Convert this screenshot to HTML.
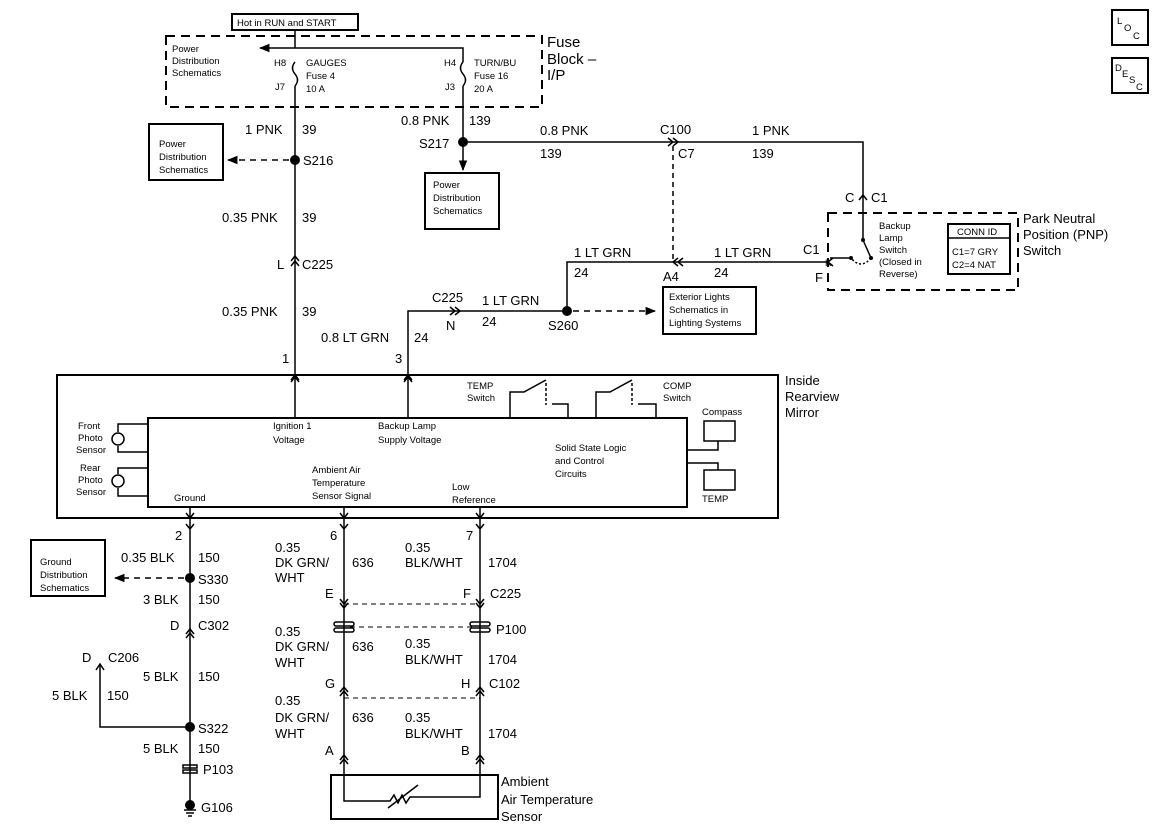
<!DOCTYPE html>
<html><head><meta charset="utf-8"><style>
html,body{margin:0;padding:0;background:#fff;}
svg{display:block;font-family:"Liberation Sans",Arial,sans-serif;}
.t{font-size:13px;} .s{font-size:9.5px;} .b{font-size:15px;}
</style></head><body>
<svg width="1162" height="837" viewBox="0 0 1162 837" xmlns="http://www.w3.org/2000/svg">
<defs>
<marker id="ah" viewBox="0 0 10 10" refX="9" refY="5" markerWidth="7" markerHeight="7" orient="auto"><path d="M0,1 L10,5 L0,9 z" fill="#000"/></marker>
</defs>
<g fill="none" stroke="#000" stroke-width="1.5">
<rect x="232" y="14" width="126" height="16" stroke-width="2"/>
<rect x="166" y="36" width="376" height="71" stroke-dasharray="9,6" stroke-width="2"/>
<path d="M295 30 V48"/>
<path d="M295 48 H260" marker-end="url(#ah)"/>
<path d="M295 48 H463 V62"/>
<path d="M295 62 q-5 6 0 12 q5 6 0 12"/>
<path d="M463 62 q-5 6 0 12 q5 6 0 12"/>
<path d="M295 86 V375"/>
<path d="M291 266 l4 -5 l4 5"/>
<path d="M291 261 l4 -5 l4 5"/>
<path d="M463 86 V142"/>
<path d="M463 142 V170" marker-end="url(#ah)"/>
<rect x="149" y="124" width="74" height="56" stroke-width="2"/>
<path d="M289 160 H228" stroke-dasharray="6,5" marker-end="url(#ah)"/>
<rect x="425" y="173" width="74" height="56" stroke-width="2"/>
<path d="M463 142 H863 V215"/>
<path d="M668 138 l5 4 l-5 4 M673 138 l5 4 l-5 4"/>
<path d="M673 146 V262" stroke-dasharray="5,4"/>
<path d="M859 200 l4 -5 l4 5"/>
<rect x="828" y="213" width="190" height="77" stroke-dasharray="9,6" stroke-width="2"/>
<path d="M863 215 V240 L871 258"/>
<path d="M871 258 q-10 12 -20 0" stroke-dasharray="2,2"/>
<path d="M851 258 H830"/>
<rect x="948" y="224" width="62" height="50" stroke-width="2"/>
<path d="M948 238 H1010"/>
<path d="M828 262 H567 V311 H408 V375"/>
<path d="M833 258 l-5 4 l5 4"/>
<path d="M678 258 l-5 4 l5 4 M683 258 l-5 4 l5 4"/>
<path d="M450 307 l5 4 l-5 4 M455 307 l5 4 l-5 4"/>
<path d="M573 311 H655" stroke-dasharray="6,5" marker-end="url(#ah)"/>
<rect x="663" y="287" width="93" height="47" stroke-width="2"/>
<path d="M291 380 l4 -5 l4 5 M404 380 l4 -5 l4 5"/>
<rect x="57" y="375" width="721" height="143" stroke-width="2"/>
<rect x="148" y="418" width="539" height="89" stroke-width="2"/>
<path d="M295 375 V418 M408 375 V418"/>
<path d="M291 382 l4 -5 l4 5 M404 382 l4 -5 l4 5"/>
<path d="M148 424 H118 V432 M118 446 V452 H148"/>
<circle cx="118" cy="439" r="6"/>
<path d="M148 468 H118 V474 M118 488 V496 H148"/>
<circle cx="118" cy="481" r="6"/>
<path d="M510 418 V392 H524 L546 380"/>
<path d="M546 383 V405" stroke-dasharray="3,2"/>
<path d="M552 404 H568 V418"/>
<path d="M596 418 V392 H610 L632 380"/>
<path d="M632 383 V405" stroke-dasharray="3,2"/>
<path d="M638 404 H656 V418"/>
<rect x="704" y="421" width="31" height="20"/>
<path d="M687 450 H718 V441"/>
<rect x="704" y="470" width="31" height="20"/>
<path d="M687 463 H718 V470"/>
<path d="M190 507 V518 M344 507 V518 M480 507 V518"/>
<path d="M186 513 l4 5 l4 -5 M340 513 l4 5 l4 -5 M476 513 l4 5 l4 -5"/>
<path d="M186 524 l4 5 l4 -5 M340 524 l4 5 l4 -5 M476 524 l4 5 l4 -5"/>
<path d="M190 518 V805"/>
<rect x="31" y="540" width="74" height="56" stroke-width="2"/>
<path d="M184 578 H115" stroke-dasharray="6,5" marker-end="url(#ah)"/>
<path d="M186 638 l4 -5 l4 5 M186 634 l4 -5 l4 5"/>
<path d="M190 727 H100 V664"/>
<path d="M96 670 l4 -6 l4 6"/>
<rect x="183" y="765" width="14" height="3"/>
<rect x="183" y="770" width="14" height="3"/>
<path d="M184 810 h12 M186 813 h8 M188 816 h4"/>
<path d="M344 518 V775 M480 518 V775"/>
<path d="M340 599 l4 5 l4 -5 M476 599 l4 5 l4 -5 M340 603 l4 5 l4 -5 M476 603 l4 5 l4 -5"/>
<path d="M344 604 H480 M350 627 H474 M344 698 H480" stroke-dasharray="5,4" stroke-width="1"/>
<rect x="334" y="622" width="20" height="4" rx="2"/>
<rect x="334" y="628" width="20" height="4" rx="2"/>
<rect x="470" y="622" width="20" height="4" rx="2"/>
<rect x="470" y="628" width="20" height="4" rx="2"/>
<path d="M340 696 l4 -5 l4 5 M476 696 l4 -5 l4 5 M340 692 l4 -5 l4 5 M476 692 l4 -5 l4 5"/>
<path d="M340 764 l4 -5 l4 5 M476 764 l4 -5 l4 5 M340 760 l4 -5 l4 5 M476 760 l4 -5 l4 5"/>
<rect x="331" y="775" width="167" height="44" stroke-width="2"/>
<path d="M344 775 V801 H390 l4 -6 l4 8 l4 -8 l4 8 l4 -6 H480 V775"/>
<path d="M388 808 L418 785"/>
<rect x="1112" y="10" width="36" height="35" stroke-width="2"/>
<rect x="1112" y="58" width="36" height="35" stroke-width="2"/>
</g>
<g fill="#000">
<circle cx="295" cy="160" r="5"/><circle cx="463" cy="142" r="5"/><circle cx="567" cy="311" r="5"/>
<circle cx="190" cy="578" r="5"/><circle cx="190" cy="727" r="5"/><circle cx="190" cy="805" r="5"/>
<circle cx="863" cy="240" r="2"/><circle cx="871" cy="258" r="2"/><circle cx="851" cy="258" r="2"/>
<text class="s" x="237" y="26">Hot in RUN and START</text>
<text class="s" x="172" y="52">Power</text><text class="s" x="172" y="64">Distribution</text><text class="s" x="172" y="76">Schematics</text>
<text class="s" x="274" y="66">H8</text><text class="s" x="275" y="90">J7</text>
<text class="s" x="306" y="66">GAUGES</text><text class="s" x="306" y="79">Fuse 4</text><text class="s" x="306" y="92">10 A</text>
<text class="s" x="444" y="66">H4</text><text class="s" x="445" y="90">J3</text>
<text class="s" x="474" y="66">TURN/BU</text><text class="s" x="474" y="79">Fuse 16</text><text class="s" x="474" y="92">20 A</text>
<text class="b" x="547" y="47">Fuse</text><text class="b" x="547" y="64">Block –</text><text class="b" x="547" y="80">I/P</text>
<text class="t" x="245" y="134">1 PNK</text><text class="t" x="302" y="134">39</text>
<text class="t" x="303" y="165">S216</text>
<text class="s" x="159" y="147">Power</text><text class="s" x="159" y="160">Distribution</text><text class="s" x="159" y="173">Schematics</text>
<text class="t" x="401" y="125">0.8 PNK</text><text class="t" x="469" y="125">139</text>
<text class="t" x="419" y="148">S217</text>
<text class="s" x="433" y="188">Power</text><text class="s" x="433" y="201">Distribution</text><text class="s" x="433" y="214">Schematics</text>
<text class="t" x="540" y="135">0.8 PNK</text><text class="t" x="540" y="158">139</text>
<text class="t" x="660" y="134">C100</text><text class="t" x="678" y="158">C7</text>
<text class="t" x="752" y="135">1 PNK</text><text class="t" x="752" y="158">139</text>
<text class="t" x="845" y="202">C</text><text class="t" x="871" y="202">C1</text>
<text class="s" x="879" y="229">Backup</text><text class="s" x="879" y="241">Lamp</text><text class="s" x="879" y="253">Switch</text><text class="s" x="879" y="265">(Closed in</text><text class="s" x="879" y="277">Reverse)</text>
<text class="s" x="957" y="235">CONN ID</text><text class="s" x="952" y="255">C1=7 GRY</text><text class="s" x="952" y="268">C2=4 NAT</text>
<text class="t" x="1023" y="223">Park Neutral</text><text class="t" x="1023" y="239">Position (PNP)</text><text class="t" x="1023" y="255">Switch</text>
<text class="t" x="803" y="254">C1</text><text class="t" x="815" y="282">F</text><text class="s" x="825" y="266">K</text>
<text class="t" x="574" y="257">1 LT GRN</text><text class="t" x="574" y="277">24</text>
<text class="t" x="714" y="257">1 LT GRN</text><text class="t" x="714" y="277">24</text>
<text class="t" x="663" y="281">A4</text>
<text class="s" x="669" y="300">Exterior Lights</text><text class="s" x="669" y="313">Schematics in</text><text class="s" x="669" y="326">Lighting Systems</text>
<text class="t" x="432" y="302">C225</text><text class="t" x="482" y="305">1 LT GRN</text>
<text class="t" x="446" y="330">N</text><text class="t" x="482" y="326">24</text><text class="t" x="548" y="330">S260</text>
<text class="t" x="222" y="222">0.35 PNK</text><text class="t" x="302" y="222">39</text>
<text class="t" x="277" y="269">L</text><text class="t" x="302" y="269">C225</text>
<text class="t" x="222" y="316">0.35 PNK</text><text class="t" x="302" y="316">39</text>
<text class="t" x="321" y="342">0.8 LT GRN</text><text class="t" x="414" y="342">24</text>
<text class="t" x="282" y="363">1</text><text class="t" x="395" y="363">3</text>
<text class="t" x="785" y="385">Inside</text><text class="t" x="785" y="401">Rearview</text><text class="t" x="785" y="417">Mirror</text>
<text class="s" x="467" y="389">TEMP</text><text class="s" x="467" y="401">Switch</text>
<text class="s" x="663" y="389">COMP</text><text class="s" x="663" y="401">Switch</text>
<text class="s" x="702" y="415">Compass</text><text class="s" x="702" y="502">TEMP</text>
<text class="s" x="78" y="429">Front</text><text class="s" x="78" y="441">Photo</text><text class="s" x="76" y="453">Sensor</text>
<text class="s" x="80" y="471">Rear</text><text class="s" x="78" y="483">Photo</text><text class="s" x="76" y="495">Sensor</text>
<text class="s" x="273" y="429">Ignition 1</text><text class="s" x="273" y="443">Voltage</text>
<text class="s" x="378" y="429">Backup Lamp</text><text class="s" x="378" y="443">Supply Voltage</text>
<text class="s" x="555" y="451">Solid State Logic</text><text class="s" x="555" y="464">and Control</text><text class="s" x="555" y="477">Circuits</text>
<text class="s" x="312" y="473">Ambient Air</text><text class="s" x="312" y="486">Temperature</text><text class="s" x="312" y="499">Sensor Signal</text>
<text class="s" x="452" y="490">Low</text><text class="s" x="452" y="503">Reference</text>
<text class="s" x="174" y="501">Ground</text>
<text class="t" x="175" y="540">2</text><text class="t" x="330" y="540">6</text><text class="t" x="466" y="540">7</text>
<text class="t" x="121" y="562">0.35 BLK</text><text class="t" x="198" y="562">150</text>
<text class="t" x="198" y="584">S330</text>
<text class="s" x="40" y="565">Ground</text><text class="s" x="40" y="578">Distribution</text><text class="s" x="40" y="591">Schematics</text>
<text class="t" x="143" y="604">3 BLK</text><text class="t" x="198" y="604">150</text>
<text class="t" x="170" y="630">D</text><text class="t" x="198" y="630">C302</text>
<text class="t" x="82" y="662">D</text><text class="t" x="108" y="662">C206</text>
<text class="t" x="143" y="681">5 BLK</text><text class="t" x="198" y="681">150</text>
<text class="t" x="52" y="700">5 BLK</text><text class="t" x="107" y="700">150</text>
<text class="t" x="198" y="733">S322</text>
<text class="t" x="143" y="753">5 BLK</text><text class="t" x="198" y="753">150</text>
<text class="t" x="203" y="774">P103</text>
<text class="t" x="201" y="812">G106</text>
<text class="t" x="275" y="552">0.35</text><text class="t" x="275" y="567">DK GRN/</text><text class="t" x="275" y="582">WHT</text><text class="t" x="352" y="567">636</text>
<text class="t" x="405" y="552">0.35</text><text class="t" x="405" y="567">BLK/WHT</text><text class="t" x="488" y="567">1704</text>
<text class="t" x="325" y="598">E</text><text class="t" x="463" y="598">F</text><text class="t" x="490" y="598">C225</text>
<text class="t" x="496" y="634">P100</text>
<text class="t" x="275" y="636">0.35</text><text class="t" x="275" y="651">DK GRN/</text><text class="t" x="275" y="667">WHT</text><text class="t" x="352" y="651">636</text>
<text class="t" x="405" y="648">0.35</text><text class="t" x="405" y="664">BLK/WHT</text><text class="t" x="488" y="664">1704</text>
<text class="t" x="325" y="688">G</text><text class="t" x="461" y="688">H</text><text class="t" x="489" y="688">C102</text>
<text class="t" x="275" y="705">0.35</text><text class="t" x="275" y="722">DK GRN/</text><text class="t" x="275" y="738">WHT</text><text class="t" x="352" y="722">636</text>
<text class="t" x="405" y="722">0.35</text><text class="t" x="405" y="738">BLK/WHT</text><text class="t" x="488" y="738">1704</text>
<text class="t" x="325" y="755">A</text><text class="t" x="461" y="755">B</text>
<text class="t" x="501" y="786">Ambient</text><text class="t" x="501" y="804">Air Temperature</text><text class="t" x="501" y="821">Sensor</text>
<text class="s" x="1117" y="24">L</text><text class="s" x="1124" y="31">O</text><text class="s" x="1133" y="39">C</text>
<text class="s" x="1115" y="71">D</text><text class="s" x="1122" y="77">E</text><text class="s" x="1129" y="83">S</text><text class="s" x="1136" y="90">C</text>
</g>
</svg>
</body></html>
